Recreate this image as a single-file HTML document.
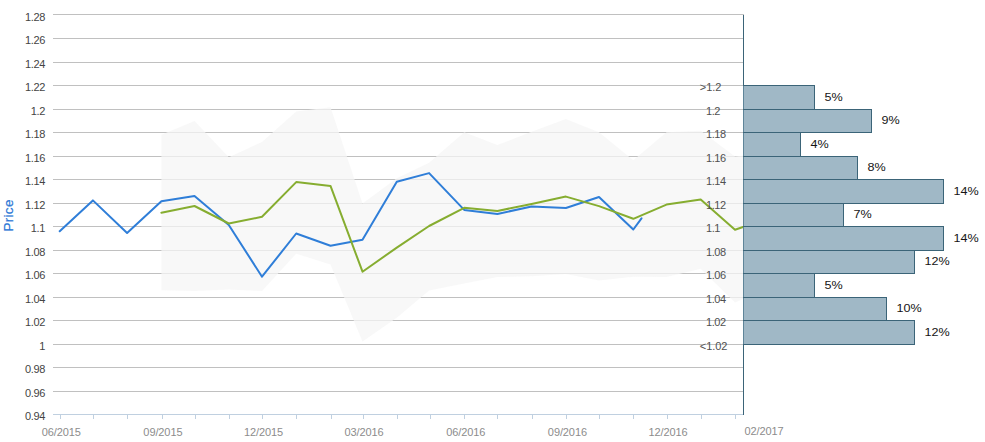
<!DOCTYPE html>
<html><head><meta charset="utf-8"><title>Price chart</title>
<style>
html,body{margin:0;padding:0;background:#fff;}
body{width:985px;height:442px;overflow:hidden;font-family:"Liberation Sans",sans-serif;}
svg{display:block;font-family:"Liberation Sans",sans-serif;}
.yl{font-size:11px;fill:#444;text-anchor:end;letter-spacing:-0.3px;}
.xl{font-size:11px;fill:#8c8c8c;text-anchor:middle;letter-spacing:-0.1px;}
.hl{font-size:11px;fill:#505050;text-anchor:start;letter-spacing:-0.45px;}
.dl{font-size:11px;fill:#151515;text-anchor:start;}
</style></head><body>
<svg width="985" height="442" viewBox="0 0 985 442">
<rect x="0" y="0" width="985" height="442" fill="#ffffff"/>

<g stroke="#c0c0c0" stroke-width="1" shape-rendering="crispEdges">
<line x1="53" x2="744" y1="14.5" y2="14.5"/>
<line x1="53" x2="743" y1="38.5" y2="38.5"/>
<line x1="53" x2="743" y1="62.5" y2="62.5"/>
<line x1="53" x2="743" y1="85.5" y2="85.5"/>
<line x1="53" x2="743" y1="109.5" y2="109.5"/>
<line x1="53" x2="743" y1="132.5" y2="132.5"/>
<line x1="53" x2="743" y1="156.5" y2="156.5"/>
<line x1="53" x2="743" y1="179.5" y2="179.5"/>
<line x1="53" x2="743" y1="203.5" y2="203.5"/>
<line x1="53" x2="743" y1="226.5" y2="226.5"/>
<line x1="53" x2="743" y1="250.5" y2="250.5"/>
<line x1="53" x2="743" y1="273.5" y2="273.5"/>
<line x1="53" x2="743" y1="297.5" y2="297.5"/>
<line x1="53" x2="743" y1="320.5" y2="320.5"/>
<line x1="53" x2="743" y1="344.5" y2="344.5"/>
<line x1="53" x2="743" y1="367.5" y2="367.5"/>
<line x1="53" x2="743" y1="391.5" y2="391.5"/>
</g>
<polygon points="161.4,134.8 194.5,121.0 228.8,157.2 262.0,141.9 296.2,111.4 330.5,107.3 362.5,203.5 396.8,178.2 429.1,162.8 464.2,132.3 497.4,145.0 531.6,131.8 565.9,119.1 599.0,132.2 633.3,160.3 666.5,132.3 700.7,130.7 735.0,156.6 743.0,155.5 743.0,299.0 735.0,302.4 700.7,268.8 666.5,277.1 633.3,276.8 599.0,280.5 565.9,274.0 531.6,276.2 497.4,276.9 464.2,283.5 429.1,290.5 396.8,317.8 362.5,341.4 330.5,264.6 296.2,253.7 262.0,291.0 228.8,289.5 194.5,291.0 161.4,290.2" fill="#f6f6f6" fill-opacity="0.75"/>
<g stroke="#c0d0e0" stroke-width="1" shape-rendering="crispEdges">
<line x1="53" x2="743" y1="414.5" y2="414.5"/>
<line x1="60.5" x2="60.5" y1="415" y2="419"/>
<line x1="93.5" x2="93.5" y1="415" y2="419"/>
<line x1="127.5" x2="127.5" y1="415" y2="419"/>
<line x1="162.5" x2="162.5" y1="415" y2="419"/>
<line x1="195.5" x2="195.5" y1="415" y2="419"/>
<line x1="229.5" x2="229.5" y1="415" y2="419"/>
<line x1="262.5" x2="262.5" y1="415" y2="419"/>
<line x1="296.5" x2="296.5" y1="415" y2="419"/>
<line x1="331.5" x2="331.5" y1="415" y2="419"/>
<line x1="363.5" x2="363.5" y1="415" y2="419"/>
<line x1="397.5" x2="397.5" y1="415" y2="419"/>
<line x1="430.5" x2="430.5" y1="415" y2="419"/>
<line x1="464.5" x2="464.5" y1="415" y2="419"/>
<line x1="497.5" x2="497.5" y1="415" y2="419"/>
<line x1="532.5" x2="532.5" y1="415" y2="419"/>
<line x1="566.5" x2="566.5" y1="415" y2="419"/>
<line x1="599.5" x2="599.5" y1="415" y2="419"/>
<line x1="633.5" x2="633.5" y1="415" y2="419"/>
<line x1="667.5" x2="667.5" y1="415" y2="419"/>
<line x1="701.5" x2="701.5" y1="415" y2="419"/>
<line x1="735.5" x2="735.5" y1="415" y2="419"/>
</g>
<polyline points="59.7,231.3 92.9,200.4 127.1,233.0 161.4,201.3 194.5,196.1 228.8,225.0 262.0,276.7 296.2,233.5 330.5,245.8 362.5,239.7 396.8,181.7 429.1,173.1 464.2,209.9 497.4,213.9 531.6,206.5 565.9,208.0 599.0,197.0 633.3,229.5 641.5,218.3" fill="none" stroke="#2f7ed8" stroke-width="2" stroke-linejoin="round" stroke-linecap="round"/>
<polyline points="161.4,212.7 194.5,206.0 228.8,223.5 262.0,216.8 296.2,182.1 330.5,185.9 362.5,271.7 396.8,247.6 429.1,226.0 464.2,207.8 497.4,211.0 531.6,203.9 565.9,196.6 599.0,206.1 633.3,218.8 666.5,204.6 700.7,199.5 735.0,229.8 743.0,227.0" fill="none" stroke="#86ad30" stroke-width="2" stroke-linejoin="round" stroke-linecap="round"/>
<g fill="#a0b8c6" stroke="#3b6478" stroke-width="1" shape-rendering="crispEdges">
<rect x="743.5" y="85.5" width="71.0" height="24.0"/>
<rect x="743.5" y="109.5" width="128.0" height="23.0"/>
<rect x="743.5" y="132.5" width="57.0" height="24.0"/>
<rect x="743.5" y="156.5" width="114.0" height="23.0"/>
<rect x="743.5" y="179.5" width="200.0" height="24.0"/>
<rect x="743.5" y="203.5" width="100.0" height="23.0"/>
<rect x="743.5" y="226.5" width="200.0" height="24.0"/>
<rect x="743.5" y="250.5" width="171.0" height="23.0"/>
<rect x="743.5" y="273.5" width="71.0" height="24.0"/>
<rect x="743.5" y="297.5" width="143.0" height="23.0"/>
<rect x="743.5" y="320.5" width="171.0" height="24.0"/>
</g>
<line x1="743.5" x2="743.5" y1="15" y2="415" stroke="#3b6478" stroke-width="1" shape-rendering="crispEdges"/>
<line x1="743.5" x2="743.5" y1="86.0" y2="109.0" stroke="#5f8599" stroke-width="1" shape-rendering="crispEdges"/>
<line x1="743.5" x2="743.5" y1="110.0" y2="132.0" stroke="#5f8599" stroke-width="1" shape-rendering="crispEdges"/>
<line x1="743.5" x2="743.5" y1="133.0" y2="156.0" stroke="#5f8599" stroke-width="1" shape-rendering="crispEdges"/>
<line x1="743.5" x2="743.5" y1="157.0" y2="179.0" stroke="#5f8599" stroke-width="1" shape-rendering="crispEdges"/>
<line x1="743.5" x2="743.5" y1="180.0" y2="203.0" stroke="#5f8599" stroke-width="1" shape-rendering="crispEdges"/>
<line x1="743.5" x2="743.5" y1="204.0" y2="226.0" stroke="#5f8599" stroke-width="1" shape-rendering="crispEdges"/>
<line x1="743.5" x2="743.5" y1="227.0" y2="250.0" stroke="#5f8599" stroke-width="1" shape-rendering="crispEdges"/>
<line x1="743.5" x2="743.5" y1="251.0" y2="273.0" stroke="#5f8599" stroke-width="1" shape-rendering="crispEdges"/>
<line x1="743.5" x2="743.5" y1="274.0" y2="297.0" stroke="#5f8599" stroke-width="1" shape-rendering="crispEdges"/>
<line x1="743.5" x2="743.5" y1="298.0" y2="320.0" stroke="#5f8599" stroke-width="1" shape-rendering="crispEdges"/>
<line x1="743.5" x2="743.5" y1="321.0" y2="344.0" stroke="#5f8599" stroke-width="1" shape-rendering="crispEdges"/>
<text class="yl" x="45.2" y="21.0">1.28</text>
<text class="yl" x="45.2" y="44.0">1.26</text>
<text class="yl" x="45.2" y="68.0">1.24</text>
<text class="yl" x="45.2" y="91.0">1.22</text>
<text class="yl" x="45.2" y="115.0">1.2</text>
<text class="yl" x="45.2" y="138.0">1.18</text>
<text class="yl" x="45.2" y="162.0">1.16</text>
<text class="yl" x="45.2" y="185.0">1.14</text>
<text class="yl" x="45.2" y="209.0">1.12</text>
<text class="yl" x="45.2" y="232.0">1.1</text>
<text class="yl" x="45.2" y="256.0">1.08</text>
<text class="yl" x="45.2" y="279.0">1.06</text>
<text class="yl" x="45.2" y="303.0">1.04</text>
<text class="yl" x="45.2" y="326.0">1.02</text>
<text class="yl" x="45.2" y="350.0">1</text>
<text class="yl" x="45.2" y="373.0">0.98</text>
<text class="yl" x="45.2" y="397.0">0.96</text>
<text class="yl" x="45.2" y="420.0">0.94</text>
<text class="xl" x="61.2" y="436">06/2015</text>
<text class="xl" x="162.9" y="436">09/2015</text>
<text class="xl" x="263.5" y="436">12/2015</text>
<text class="xl" x="364.0" y="436">03/2016</text>
<text class="xl" x="465.7" y="436">06/2016</text>
<text class="xl" x="567.4" y="436">09/2016</text>
<text class="xl" x="668.0" y="436">12/2016</text>
<text class="xl" style="text-anchor:start" x="744.5" y="435">02/2017</text>
<text class="hl" style="letter-spacing:-0.08px" x="699.8" y="91.0">&gt;1.2</text>
<text class="hl" x="706.0" y="115.0">1.2</text>
<text class="hl" x="706.0" y="138.0">1.18</text>
<text class="hl" x="706.0" y="162.0">1.16</text>
<text class="hl" x="706.0" y="185.0">1.14</text>
<text class="hl" x="706.0" y="209.0">1.12</text>
<text class="hl" x="706.0" y="232.0">1.1</text>
<text class="hl" x="706.0" y="256.0">1.08</text>
<text class="hl" x="706.0" y="279.0">1.06</text>
<text class="hl" x="706.0" y="303.0">1.04</text>
<text class="hl" x="706.0" y="326.0">1.02</text>
<text class="hl" style="letter-spacing:-0.08px" x="699.8" y="350.0">&lt;1.02</text>
<text class="dl" x="824.5" y="100.8" textLength="18.2" lengthAdjust="spacingAndGlyphs">5%</text>
<text class="dl" x="881.5" y="124.3" textLength="18.2" lengthAdjust="spacingAndGlyphs">9%</text>
<text class="dl" x="810.5" y="147.8" textLength="18.2" lengthAdjust="spacingAndGlyphs">4%</text>
<text class="dl" x="867.5" y="171.3" textLength="18.2" lengthAdjust="spacingAndGlyphs">8%</text>
<text class="dl" x="953.5" y="194.8" textLength="25.2" lengthAdjust="spacingAndGlyphs">14%</text>
<text class="dl" x="853.5" y="218.3" textLength="18.2" lengthAdjust="spacingAndGlyphs">7%</text>
<text class="dl" x="953.5" y="241.8" textLength="25.2" lengthAdjust="spacingAndGlyphs">14%</text>
<text class="dl" x="924.5" y="265.3" textLength="25.2" lengthAdjust="spacingAndGlyphs">12%</text>
<text class="dl" x="824.5" y="288.8" textLength="18.2" lengthAdjust="spacingAndGlyphs">5%</text>
<text class="dl" x="896.5" y="312.3" textLength="25.2" lengthAdjust="spacingAndGlyphs">10%</text>
<text class="dl" x="924.5" y="335.8" textLength="25.2" lengthAdjust="spacingAndGlyphs">12%</text>
<text transform="translate(12.7,215.4) rotate(-90)" text-anchor="middle" font-size="13.5px" letter-spacing="0.3" fill="#2c77d6" stroke="#2c77d6" stroke-width="0.2">Price</text>
</svg></body></html>
